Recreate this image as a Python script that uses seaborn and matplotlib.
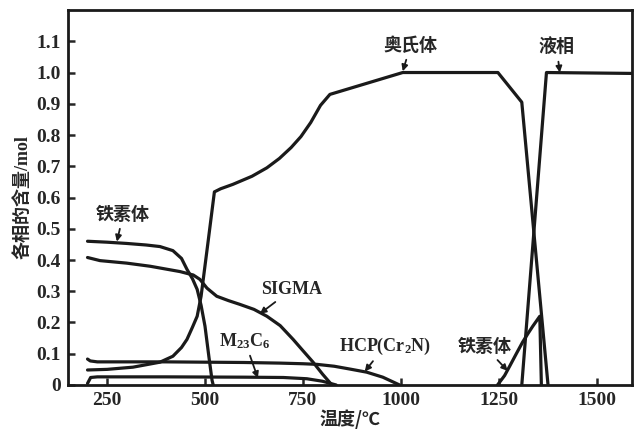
import matplotlib
matplotlib.use("Agg")
import matplotlib.pyplot as plt
import seaborn as sns

# phase amounts (temperature in C, amount in mol)
ferrite_lo_T = [200, 250, 300, 350, 385, 418, 440, 454, 468, 480, 490, 500, 510, 518, 521]
ferrite_lo_y = [0.46, 0.457, 0.453, 0.448, 0.443, 0.43, 0.405, 0.37, 0.34, 0.306, 0.255, 0.188, 0.09, 0.015, 0.0]

sigma_T = [200, 232, 300, 360, 436, 470, 487, 505, 530, 560, 589, 625, 658, 692, 725, 750, 776, 800, 822]
sigma_y = [0.408, 0.398, 0.39, 0.38, 0.363, 0.352, 0.338, 0.31, 0.284, 0.27, 0.258, 0.242, 0.22, 0.19, 0.146, 0.11, 0.073, 0.035, 0.003]

austenite_T = [200, 250, 316, 385, 418, 440, 454, 468, 480, 490, 507, 524, 540, 571, 620, 658, 690, 720, 745, 770, 795, 819, 1005, 1248, 1309, 1376]
austenite_y = [0.048, 0.05, 0.057, 0.073, 0.092, 0.12, 0.146, 0.185, 0.22, 0.284, 0.45, 0.618, 0.628, 0.642, 0.668, 0.695, 0.725, 0.76, 0.795, 0.84, 0.895, 0.93, 1.0, 1.0, 0.905, 0.0]

liquid_T = [1309, 1372, 1600]
liquid_y = [0.0, 1.0, 0.997]

ferrite_hi_T = [1247, 1265, 1278, 1295, 1311, 1325, 1337, 1355, 1359]
ferrite_hi_y = [0.0, 0.03, 0.06, 0.10, 0.137, 0.165, 0.188, 0.22, 0.0]

hcp_T = [200, 207, 225, 300, 400, 500, 600, 692, 750, 786, 830, 870, 913, 954, 997]
hcp_y = [0.083, 0.077, 0.074, 0.074, 0.074, 0.073, 0.072, 0.07, 0.068, 0.066, 0.06, 0.051, 0.041, 0.025, 0.0]

m23c6_T = [200, 208, 225, 400, 600, 700, 760, 800, 835]
m23c6_y = [0.005, 0.024, 0.026, 0.026, 0.025, 0.024, 0.02, 0.012, 0.0]

xticks = [250, 500, 750, 1000, 1250, 1500]
yticks = [0, 0.1, 0.2, 0.3, 0.4, 0.5, 0.6, 0.7, 0.8, 0.9, 1.0, 1.1]
yticklabels = ["0", "0.1", "0.2", "0.3", "0.4", "0.5", "0.6", "0.7", "0.8", "0.9", "1.0", "1.1"]

sns.set_theme(style="ticks")
plt.rcParams["font.family"] = ["Liberation Serif", "Noto Sans CJK SC", "DejaVu Sans"]
plt.rcParams["font.weight"] = "bold"
plt.rcParams["mathtext.fontset"] = "custom"
plt.rcParams["mathtext.rm"] = "Liberation Serif:bold"
plt.rcParams["mathtext.default"] = "rm"

fig = plt.figure(figsize=(6.35, 4.36), dpi=100)
ax = fig.add_axes([0.107, 0.117, 0.888, 0.86])

series = [
    (ferrite_lo_T, ferrite_lo_y),
    (sigma_T, sigma_y),
    (austenite_T, austenite_y),
    (liquid_T, liquid_y),
    (ferrite_hi_T, ferrite_hi_y),
    (hcp_T, hcp_y),
    (m23c6_T, m23c6_y),
]
for T, y in series:
    sns.lineplot(x=T, y=y, color="k", lw=2.3, sort=False, estimator=None, ax=ax)

ax.set_xlim(150, 1590)
ax.set_ylim(0, 1.2)
ax.set_xticks(xticks)
ax.set_xticklabels([str(t) for t in xticks])
ax.set_yticks(yticks)
ax.set_yticklabels(yticklabels)
ax.tick_params(direction="in", length=5, width=1.8, labelsize=14, pad=5)
for lab in ax.get_xticklabels() + ax.get_yticklabels():
    lab.set_fontweight("bold")
for sp in ax.spines.values():
    sp.set_linewidth(2)
    sp.set_color("k")

cjk = ["Liberation Serif", "Noto Sans CJK SC"]
ax.set_xlabel("温度/℃", fontsize=13, fontweight="heavy", family=["Noto Sans CJK SC"], labelpad=0)
ax.set_ylabel("各相的含量/mol", fontsize=13, fontweight="heavy", family=cjk, labelpad=3)

arrow = dict(arrowstyle="-|>", color="k", lw=1.3, mutation_scale=9, shrinkA=1, shrinkB=0)
notes = [
    ("铁素体", (275, 0.459), (291, 0.545)),
    ("SIGMA", (640, 0.228), (722, 0.306)),
    ("M$_{23}$C$_6$", (635, 0.022), (602, 0.14)),
    ("HCP(Cr$_2$N)", (908, 0.043), (959, 0.124)),
    ("铁素体", (1273, 0.045), (1214, 0.124)),
    ("奥氏体", (1005, 1.004), (1025, 1.086)),
    ("液相", (1406, 1.0), (1398, 1.08)),
]
for txt, tip, pos in notes:
    fam = ["Noto Sans CJK SC"] if any(ord(c) > 0x3000 for c in txt) else ["Liberation Serif"]
    ax.annotate(txt, xy=tip, xytext=pos, ha="center", va="center", fontsize=13,
                fontweight="heavy", family=fam, arrowprops=arrow)

fig.savefig("out.png", dpi=100)
